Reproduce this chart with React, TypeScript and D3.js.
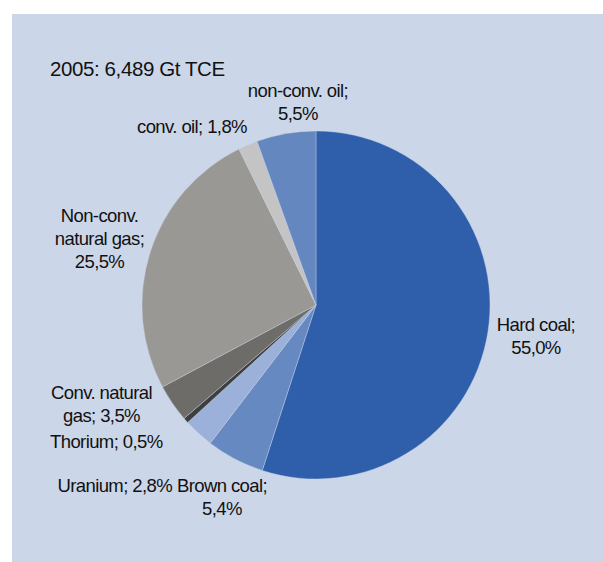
import React from "react";
import * as d3 from "d3";

const categories = [
  "Hard coal",
  "Brown coal",
  "Uranium",
  "Thorium",
  "Conv. natural gas",
  "Non-conv. natural gas",
  "conv. oil",
  "non-conv. oil",
];
const shares = [55.0, 5.4, 2.8, 0.5, 3.5, 25.5, 1.8, 5.5];
const colors = ["#2f5fab", "#6689c2", "#9bb1da", "#3e3e3e", "#6e6c69", "#9a9895", "#c4c4c4", "#6487c0"];
const titleText = "2005: 6,489 Gt TCE";

// label layout: lines, anchor x, first baseline y, text-anchor
const labelLayout: { lines: string[]; x: number; y: number; anchor: string }[] = [
  { lines: ["Hard coal;", "55,0%"], x: 536, y: 331, anchor: "middle" },
  { lines: ["Brown coal;", "5,4%"], x: 222, y: 492, anchor: "middle" },
  { lines: ["Uranium; 2,8%"], x: 172, y: 492, anchor: "end" },
  { lines: ["Thorium; 0,5%"], x: 50, y: 447.5, anchor: "start" },
  { lines: ["Conv. natural", "gas; 3,5%"], x: 101.5, y: 399, anchor: "middle" },
  { lines: ["Non-conv.", "natural gas;", "25,5%"], x: 99.5, y: 222, anchor: "middle" },
  { lines: ["conv. oil; 1,8%"], x: 137, y: 133, anchor: "start" },
  { lines: ["non-conv. oil;", "5,5%"], x: 298, y: 97, anchor: "middle" },
];

export default function App() {
  const W = 603, H = 562;
  const cx = 316, cy = 305, r = 174;
  const data = categories.map((c, i) => ({ c, v: shares[i], i }));
  const pie = d3.pie<any>().value((d) => d.v).sort(null).startAngle(0).endAngle(2 * Math.PI);
  const arcs = pie(data);
  const arc = d3.arc<any>().innerRadius(0).outerRadius(r);
  const font = "'Liberation Sans', Arial, sans-serif";
  return (
    <svg width={W} height={H} style={{ position: "absolute", left: 0, top: 0 }} fontFamily={font}>
      <rect x={0} y={0} width={W} height={H} fill="#ffffff" />
      <rect x={12} y={14} width={W - 12} height={H - 14} fill="#cbd6e8" />
      <g transform={`translate(${cx},${cy})`}>
        {arcs.map((a, i) => (
          <path key={i} d={arc(a) as string} fill={colors[i]} stroke="#cbd6e8" strokeWidth={0.4} />
        ))}
      </g>
      <text x={50} y={76} fontSize={20.5} letterSpacing={-0.4} fill="#111">{titleText}</text>
      {labelLayout.map((l, i) => (
        <text key={i} x={l.x} y={l.y} fontSize={18.5} letterSpacing={-0.6} textAnchor={l.anchor} fill="#111">
          {l.lines.map((ln, j) => (
            <tspan key={j} x={l.x} dy={j === 0 ? 0 : 22.8}>{ln}</tspan>
          ))}
        </text>
      ))}
    </svg>
  );
}
